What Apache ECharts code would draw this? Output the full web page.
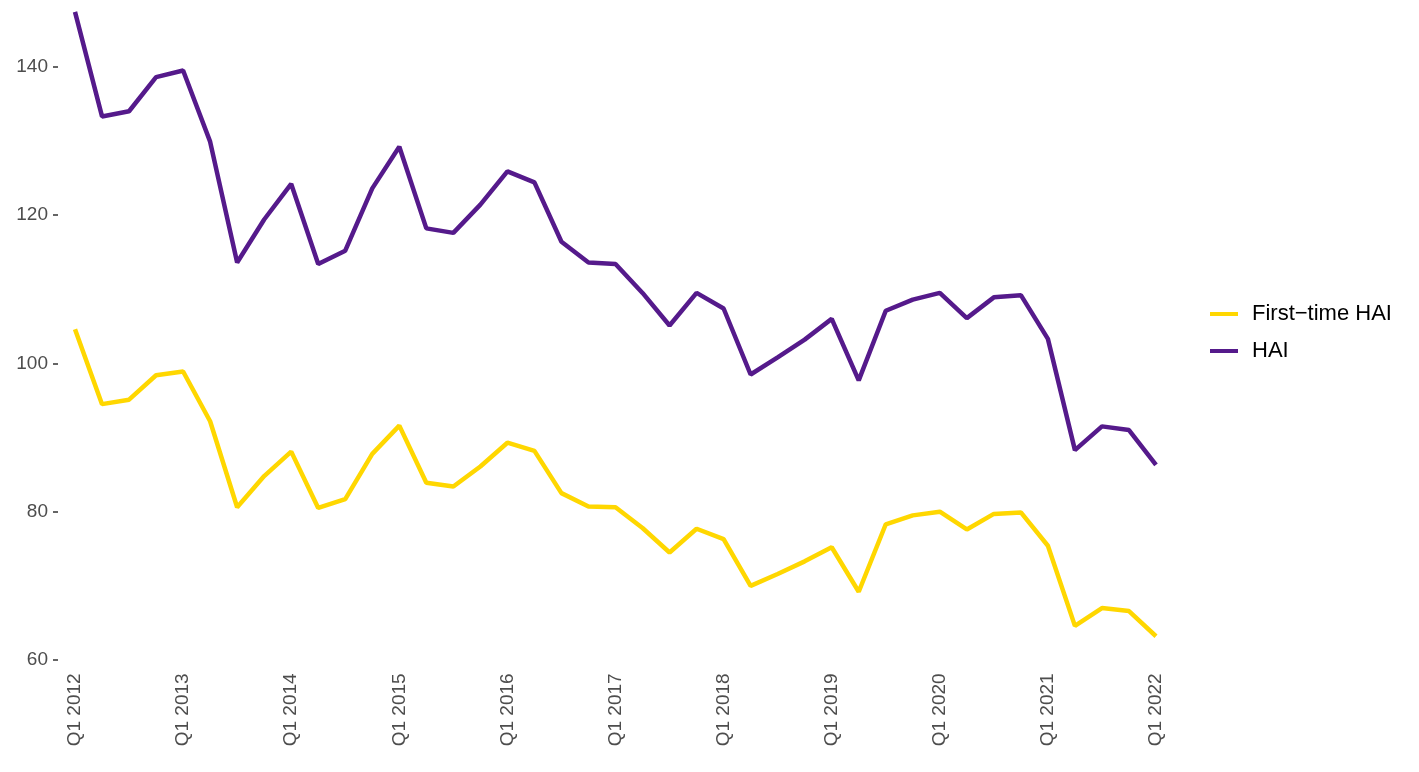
<!DOCTYPE html>
<html>
<head>
<meta charset="utf-8">
<title>HAI</title>
<script src="https://cdn.jsdelivr.net/npm/echarts@6/dist/echarts.min.js"></script>
<style>
    html, body { margin: 0; padding: 0; background: #ffffff; }
    #chart { width: 1419px; height: 772px; }
</style>
</head>
<body>
<div id="chart"></div>
<script>
// Quarters Q1 2012 .. Q1 2022
const quarters = [];
for (let y = 2012; y <= 2022; y++) {
    for (let q = 1; q <= 4; q++) {
        if (y === 2022 && q > 1) break;
        quarters.push('Q' + q + ' ' + y);
    }
}

const hai = [
    147.4, 133.3, 134.0, 138.6, 139.5, 129.9, 113.6, 119.4, 124.2, 113.4,
    115.2, 123.6, 129.2, 118.2, 117.6, 121.4, 125.9, 124.4, 116.4, 113.6,
    113.4, 109.5, 105.1, 109.5, 107.4, 98.5, 100.8, 103.2, 106.0, 97.7,
    107.1, 108.6, 109.5, 106.1, 108.9, 109.2, 103.3, 88.3, 91.5, 91.0,
    86.3
];

const firstTimeHai = [
    104.6, 94.5, 95.1, 98.4, 98.9, 92.2, 80.6, 84.8, 88.1, 80.5,
    81.7, 87.8, 91.6, 83.9, 83.4, 86.1, 89.3, 88.2, 82.5, 80.7,
    80.6, 77.8, 74.5, 77.7, 76.3, 70.0, 71.6, 73.3, 75.2, 69.2,
    78.3, 79.5, 80.0, 77.6, 79.7, 79.9, 75.4, 64.6, 67.0, 66.6,
    63.2
];

const yTicks = [60, 80, 100, 120, 140];

const chart = echarts.init(document.getElementById('chart'));

chart.setOption({
    backgroundColor: '#ffffff',
    animation: false,
    textStyle: { fontFamily: 'Liberation Sans, Arial, sans-serif' },
    grid: {
        left: 75,
        right: 263,
        top: 0,
        bottom: 104.6,
        containLabel: false
    },
    legend: {
        orient: 'vertical',
        left: 1205,
        top: 298,
        itemWidth: 28,
        itemHeight: 4,
        itemGap: 15,
        icon: 'rect',
        textStyle: { fontSize: 22, color: '#000000', padding: [0, 0, 0, 9] },
        data: ['First\u2212time HAI', 'HAI']
    },
    xAxis: {
        type: 'category',
        data: quarters,
        boundaryGap: false,
        axisLine: { show: false },
        axisTick: { show: false },
        splitLine: { show: false },
        axisLabel: {
            interval: 3,
            rotate: 90,
            margin: 6,
            fontSize: 19,
            color: '#4d4d4d'
        }
    },
    yAxis: {
        type: 'value',
        min: 59,
        max: 149,
        offset: 17,
        axisLine: { show: false },
        splitLine: { show: false },
        axisTick: {
            show: true,
            length: 5,
            customValues: yTicks,
            lineStyle: { color: '#333333', width: 1.5 }
        },
        axisLabel: {
            customValues: yTicks,
            margin: 10,
            fontSize: 19,
            color: '#4d4d4d'
        }
    },
    series: [
        {
            name: 'First\u2212time HAI',
            type: 'line',
            data: firstTimeHai,
            showSymbol: false,
            color: '#FFD700',
            lineStyle: { width: 4.5, color: '#FFD700' }
        },
        {
            name: 'HAI',
            type: 'line',
            data: hai,
            showSymbol: false,
            color: '#551A8B',
            lineStyle: { width: 4.5, color: '#551A8B' }
        }
    ]
});
</script>
</body>
</html>
